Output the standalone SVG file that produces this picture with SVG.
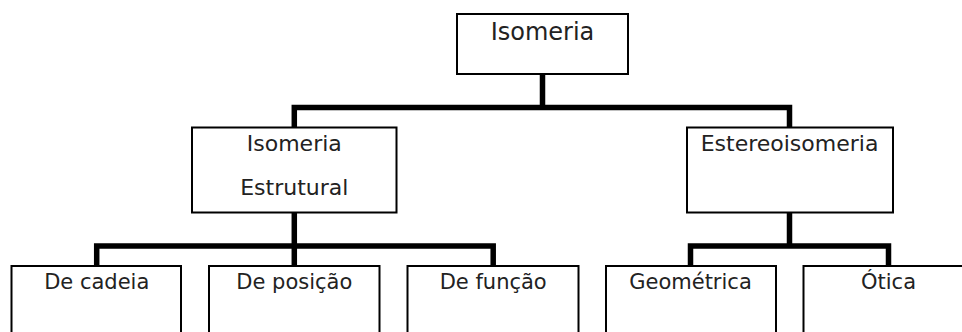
<svg xmlns="http://www.w3.org/2000/svg" width="962" height="332" viewBox="0 0 962 332">
  <style>
    .box { fill: #ffffff; stroke: #000000; stroke-width: 2; }
    .lbl { font-family: "DejaVu Sans", Verdana, sans-serif; fill: #222222; text-anchor: middle; }
    .conn { fill: none; stroke: #000000; stroke-width: 5.5; stroke-linecap: butt; stroke-linejoin: miter; }
  </style>
  <rect width="962" height="332" fill="#ffffff"/>
  <g id="connectors">
    <path class="conn" d="M542.5,74 V107.5 M294.3,127.5 V107.5 H789.5 V127.5"/>
    <path class="conn" d="M294.3,212.5 V246 M96.7,266 V246 H493.2 V266 M294.3,246 V266"/>
    <path class="conn" d="M789.5,212.5 V246 M690.5,266 V246 H888.5 V266"/>
  </g>
  <g id="isomeria">
    <rect class="box" x="457" y="14" width="171" height="60"/>
    <text class="lbl" x="542.5" y="40" font-size="24">Isomeria</text>
  </g>
  <g id="isomeria-estrutural">
    <rect class="box" x="192" y="127.5" width="204.5" height="85"/>
    <text class="lbl" x="294.3" y="151" font-size="22">Isomeria</text>
    <text class="lbl" x="294.3" y="195" font-size="22">Estrutural</text>
  </g>
  <g id="estereoisomeria">
    <rect class="box" x="687" y="127.5" width="206" height="85"/>
    <text class="lbl" x="789.5" y="151" font-size="22">Estereoisomeria</text>
  </g>
  <g id="de-cadeia">
    <rect class="box" x="11.5" y="266" width="169.5" height="90"/>
    <text class="lbl" x="96.7" y="289" font-size="21">De cadeia</text>
  </g>
  <g id="de-posicao">
    <rect class="box" x="209" y="266" width="170.5" height="90"/>
    <text class="lbl" x="294.3" y="289" font-size="21">De posição</text>
  </g>
  <g id="de-funcao">
    <rect class="box" x="407.5" y="266" width="171" height="90"/>
    <text class="lbl" x="493.2" y="289" font-size="21">De função</text>
  </g>
  <g id="geometrica">
    <rect class="box" x="606" y="266" width="170" height="90"/>
    <text class="lbl" x="690.5" y="289" font-size="21">Geométrica</text>
  </g>
  <g id="otica">
    <rect class="box" x="803.5" y="266" width="170" height="90"/>
    <text class="lbl" x="888.5" y="289" font-size="21">Ótica</text>
  </g>
</svg>
